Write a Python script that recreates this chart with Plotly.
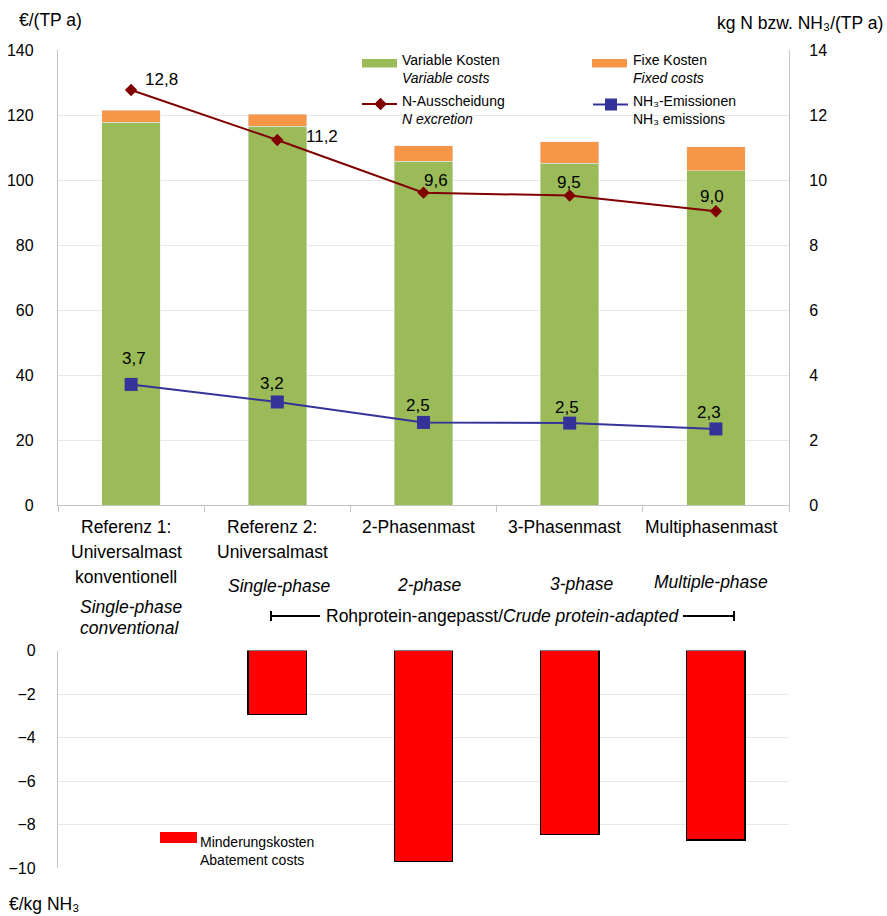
import plotly.graph_objects as go

# ---------------- data ----------------
categories = ["Referenz 1", "Referenz 2", "2-Phasenmast", "3-Phasenmast", "Multiphasenmast"]
label_de = [["Referenz 1:", "Universalmast", "konventionell"],
            ["Referenz 2:", "Universalmast"],
            ["2-Phasenmast"], ["3-Phasenmast"], ["Multiphasenmast"]]
label_en = [["Single-phase", "conventional"], ["Single-phase"], ["2-phase"], ["3-phase"], ["Multiple-phase"]]
variable_costs = [117.8, 116.6, 105.8, 105.2, 102.8]
fixed_costs = [3.7, 3.7, 4.7, 6.5, 7.4]
n_excretion = [12.77, 11.23, 9.61, 9.52, 9.04]
nh3_emissions = [3.71, 3.17, 2.54, 2.52, 2.34]
abatement_costs = [None, -2.94, -9.69, -8.46, -8.72]
left_ticks = [0, 20, 40, 60, 80, 100, 120, 140]
right_ticks = [0, 2, 4, 6, 8, 10, 12, 14]
bottom_ticks = [0, -2, -4, -6, -8, -10]

# ---------------- layout helpers ----------------
W, H = 887, 916
L, R, T, B = 58, 98, 50, 48
PW, PH = W - L - R, H - T - B
FONT = "Liberation Sans, Arial, sans-serif"
GREEN, ORANGE, DRED, BLUE = "#9BBB59", "#F79646", "#800000", "#333399"
AXC, GRC = "#c4c4c4", "#e8e8e8"


def px(x):
    return (x - L) / PW


def py(y):
    return (H - B - y) / PH


def fmt(v):
    return f"{v:.1f}".replace(".", ",")


fig = go.Figure()

fig.add_trace(go.Bar(x=categories, y=variable_costs, marker_color=GREEN, xaxis="x", yaxis="y",
                     name="Variable Kosten", showlegend=False))
fig.add_trace(go.Bar(x=categories, y=fixed_costs, marker_color=ORANGE, xaxis="x", yaxis="y",
                     name="Fixe Kosten", showlegend=False))
fig.add_trace(go.Scatter(x=categories, y=n_excretion, mode="lines+markers", xaxis="x", yaxis="y2",
                         line=dict(color=DRED, width=2),
                         marker=dict(symbol="diamond", size=9.5, color=DRED),
                         name="N-Ausscheidung", showlegend=False))
fig.add_trace(go.Scatter(x=categories, y=nh3_emissions, mode="lines+markers", xaxis="x", yaxis="y2",
                         line=dict(color=BLUE, width=2),
                         marker=dict(symbol="square", size=13, color=BLUE),
                         name="NH3-Emissionen", showlegend=False))
fig.add_trace(go.Bar(x=categories, y=abatement_costs, xaxis="x2", yaxis="y3",
                     marker=dict(color="#FF0000", line=dict(color="#000000", width=1.5)),
                     name="Minderungskosten", showlegend=False))

top_lo = py(505)
bot_hi = py(650.5)

fig.update_layout(
    width=W, height=H,
    margin=dict(l=L, r=R, t=T, b=B, pad=0),
    paper_bgcolor="white", plot_bgcolor="white",
    font=dict(family=FONT, size=16, color="#000000"),
    barmode="stack", bargap=0.6,
    showlegend=False,
    xaxis=dict(domain=[0, 1], anchor="y", type="category", range=[-0.5, 4.5], automargin=False,
               showticklabels=False, showline=True, linecolor=AXC, linewidth=1.3,
               ticks="outside", tickson="boundaries", ticklen=6, tickcolor=AXC,
               showgrid=False, zeroline=False),
    yaxis=dict(domain=[top_lo, 1], anchor="x", range=[0, 140], tickvals=left_ticks, automargin=False,
               showline=True, linecolor=AXC, linewidth=1.3, gridcolor=GRC, gridwidth=1,
               zeroline=False, ticks="", ticklabelstandoff=20,
               tickfont=dict(size=16)),
    yaxis2=dict(anchor="x", overlaying="y", side="right", range=[0, 14], tickvals=right_ticks,
                automargin=False,
                showline=True, linecolor=AXC, linewidth=1.3, showgrid=False, zeroline=False,
                ticks="", ticklabelstandoff=16, tickfont=dict(size=16)),
    xaxis2=dict(domain=[0, 1], anchor="y3", type="category", range=[-0.5, 4.5], automargin=False,
                showticklabels=False, showline=False, showgrid=False, zeroline=False, ticks=""),
    yaxis3=dict(domain=[0, bot_hi], anchor="x2", range=[-10, 0], tickvals=bottom_ticks,
                automargin=False,
                showline=True, linecolor=AXC, linewidth=1.3, gridcolor=GRC, gridwidth=1,
                zeroline=False, ticks="", ticklabelstandoff=18, tickfont=dict(size=16)),
)

ann = []
# axis titles
ann.append(dict(text="€/(TP a)", x=px(17), y=py(20), xanchor="left", yanchor="middle"))
ann.append(dict(text="kg N bzw. NH₃/(TP a)", x=px(885), y=py(23), xanchor="right", yanchor="middle"))
ann.append(dict(text="€/kg NH₃", x=px(7), y=py(904), xanchor="left", yanchor="middle"))

# category labels (German, regular)
de_rows = [527, 552, 577]
for c, lines in zip(categories, label_de):
    for i, t in enumerate(lines):
        ann.append(dict(text=t, x=c, xref="x", y=py(de_rows[i]), xshift=-5,
                        xanchor="center", yanchor="middle"))
# category labels (English, italic) – positions per category
en_pos = [[(607, 0), (628, -2)], [(586, 2)], [(585, 6)], [(584, 12)], [(582, -5)]]
for c, lines, pos in zip(categories, label_en, en_pos):
    for t, (yy, xs) in zip(lines, pos):
        ann.append(dict(text=f"<i>{t}</i>", x=c, xref="x", y=py(yy), xshift=xs,
                        xanchor="center", yanchor="middle"))

# bracket text
ann.append(dict(text="Rohprotein-angepasst/<i>Crude protein-adapted</i>", x=px(502.5), y=py(616),
                xanchor="center", yanchor="middle"))

# data labels
n_off = [(30, 10), (45, 4), (12, 12), (-1, 13), (-4, 15)]
for c, v, (xs, ys) in zip(categories, n_excretion, n_off):
    ann.append(dict(text=fmt(v), x=c, xref="x", y=v, yref="y2", xshift=xs, yshift=ys,
                    xanchor="center", yanchor="middle", font=dict(size=17)))
h_off = [(3, 26), (-5, 18), (-6, 17), (-3, 16), (-7, 16)]
for c, v, (xs, ys) in zip(categories, nh3_emissions, h_off):
    ann.append(dict(text=fmt(v), x=c, xref="x", y=v, yref="y2", xshift=xs, yshift=ys,
                    xanchor="center", yanchor="middle", font=dict(size=17)))

# legend texts (two lines each)
LF = 14
leg_txt = [
    ("Variable Kosten<br><i>Variable costs</i>", 400, 69),
    ("Fixe Kosten<br><i>Fixed costs</i>", 631, 69),
    ("N-Ausscheidung<br><i>N excretion</i>", 400, 110.5),
    ("NH₃-Emissionen<br>NH₃ emissions", 631, 110.5),
    ("Minderungskosten<br>Abatement costs", 198, 850.5),
]
for t, xx, yy in leg_txt:
    ann.append(dict(text=t, x=px(xx), y=py(yy), xanchor="left", yanchor="middle", align="left",
                    font=dict(size=LF)))

for a in ann:
    a.setdefault("xref", "paper")
    a.setdefault("yref", "paper")
    a["showarrow"] = False
    a.setdefault("font", dict(size=17.5))
    a["font"].setdefault("size", 17.5)
    a["font"]["family"] = FONT
    a["font"]["color"] = "#000000"
fig.update_layout(annotations=ann)

shapes = []


def rect(x0, y0, x1, y1, color):
    return dict(type="rect", xref="paper", yref="paper", x0=px(x0), x1=px(x1), y0=py(y1), y1=py(y0),
                fillcolor=color, line=dict(width=0), layer="above")


def line(x0, y0, x1, y1, color, w):
    return dict(type="line", xref="paper", yref="paper", x0=px(x0), x1=px(x1), y0=py(y0), y1=py(y1),
                line=dict(color=color, width=w), layer="above")


# legend swatches
shapes.append(rect(362, 59, 397, 67.5, GREEN))
shapes.append(rect(592, 59, 627, 67.5, ORANGE))
shapes.append(line(362, 104, 397, 104, DRED, 2))
cx, cy, r = 380.5, 104, 6.3
shapes.append(dict(type="path", xref="paper", yref="paper",
                   path=f"M{px(cx - r)},{py(cy)} L{px(cx)},{py(cy - r)} L{px(cx + r)},{py(cy)} L{px(cx)},{py(cy + r)} Z",
                   fillcolor=DRED, line=dict(width=0), layer="above"))
shapes.append(line(593, 104.5, 628, 104.5, BLUE, 2))
shapes.append(rect(605, 98.5, 617, 110.5, BLUE))
shapes.append(rect(160, 832, 197, 843, "#FF0000"))

# bracket
shapes.append(line(271, 616, 320, 616, "#000000", 2))
shapes.append(line(271, 611, 271, 621, "#000000", 2))
shapes.append(line(683, 616, 734, 616, "#000000", 2))
shapes.append(line(734, 611, 734, 621, "#000000", 2))

fig.update_layout(shapes=shapes)

fig.write_html("out.html")
